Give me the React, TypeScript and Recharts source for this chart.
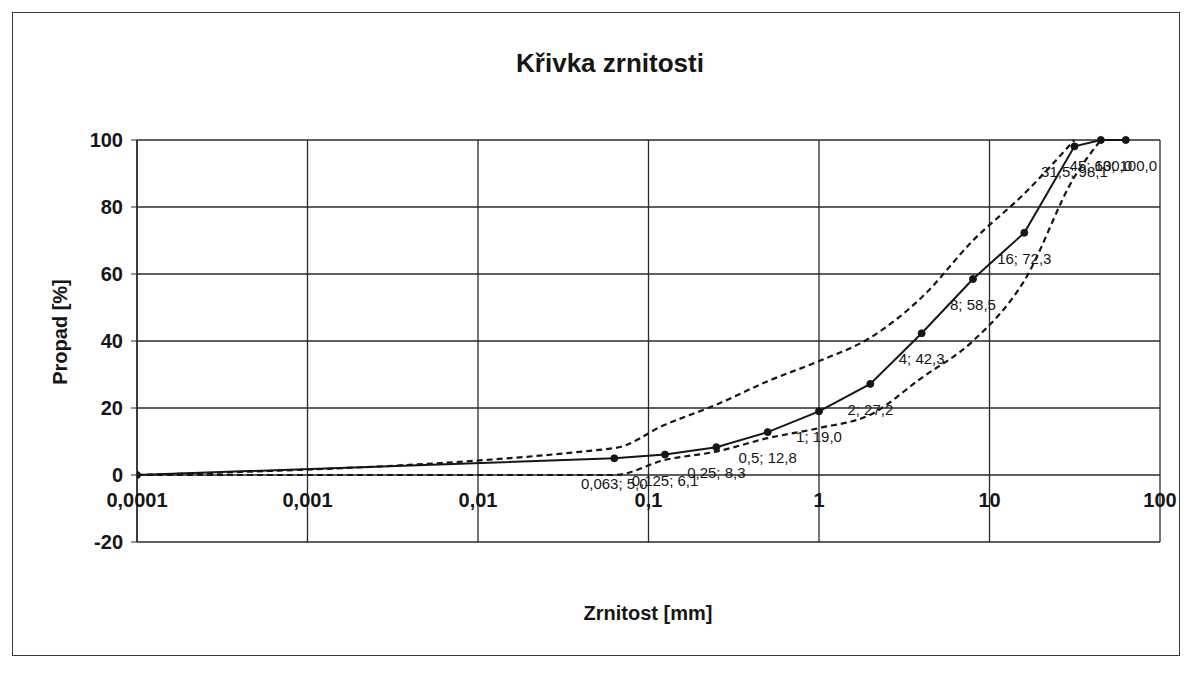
import React from 'react';
import { ComposedChart, Line, XAxis, YAxis, CartesianGrid, LabelList, ReferenceLine } from 'recharts';

// Sieve sizes [mm] and passing [%] of the tested sample
const sieve = [0.0001, 0.063, 0.125, 0.25, 0.5, 1, 2, 4, 8, 16, 31.5, 45, 63];
const passing = [0, 5.0, 6.1, 8.3, 12.8, 19.0, 27.2, 42.3, 58.5, 72.3, 98.1, 100.0, 100.0];

// Upper limit curve (dashed)
const upperSieve = [0.0001, 0.063, 0.125, 0.25, 0.5, 1, 2, 4, 8, 16, 31.5];
const upperPassing = [0, 8, 15, 21, 28, 34, 41, 53, 70, 84, 100];

// Lower limit curve (dashed)
const lowerSieve = [0.0001, 0.063, 0.125, 0.25, 0.5, 1, 2, 4, 8, 16, 31.5, 45];
const lowerPassing = [0, 0, 4.5, 7, 11, 14, 18, 29, 40, 58, 89, 100];

const xTicks = [0.0001, 0.001, 0.01, 0.1, 1, 10, 100];
const xTickLabels = ['0,0001', '0,001', '0,01', '0,1', '1', '10', '100'];
const yTicks = [-20, 0, 20, 40, 60, 80, 100];

const FONT = '"Liberation Sans", Arial, Helvetica, sans-serif';
const INK = '#161616';
const GRID = '#2a2a2a';

const fmtNum = (v: number) => String(v).replace('.', ',');
const fmtPct = (v: number) => v.toFixed(1).replace('.', ',');

const mainData = sieve.map((x, i) => ({ x, y: passing[i], label: `${fmtNum(x)}; ${fmtPct(passing[i])}` }));
const upperData = upperSieve.map((x, i) => ({ x, y: upperPassing[i] }));
const lowerData = lowerSieve.map((x, i) => ({ x, y: lowerPassing[i] }));
const tickData = xTicks.map((x, i) => ({ x, y: 0, label: xTickLabels[i] }));

const renderPointLabel = (props: any) => {
  const { x, y, value, index } = props;
  if (index === 0) return null;
  return (
    <text x={x} y={y + 31} textAnchor="middle" fontSize={15} fontFamily={FONT} fill={INK}>
      {value}
    </text>
  );
};

const renderXTick = (props: any) => {
  const { x, y, value } = props;
  return (
    <text x={x} y={y + 32} textAnchor="middle" fontSize={20} fontWeight="bold" fontFamily={FONT} fill={INK}>
      {value}
    </text>
  );
};

export default function App() {
  return (
    <div style={{ position: 'absolute', left: 0, top: 0, width: 1192, height: 673, background: '#fff', fontFamily: FONT }}>
      <div
        style={{
          position: 'absolute', left: 12, top: 12, width: 1168, height: 644,
          border: '1.5px solid #3a3a3a', boxSizing: 'border-box',
        }}
      />
      <div
        style={{
          position: 'absolute', left: 410, top: 46, width: 400, textAlign: 'center',
          fontSize: 26, fontWeight: 'bold', color: INK, lineHeight: '34px',
        }}
      >
        Křivka zrnitosti
      </div>
      <div
        style={{
          position: 'absolute', left: 498, top: 600, width: 300, textAlign: 'center',
          fontSize: 20, fontWeight: 'bold', color: INK, lineHeight: '26px',
        }}
      >
        Zrnitost [mm]
      </div>
      <div style={{ position: 'absolute', left: 60, top: 332, width: 0, height: 0 }}>
        <div
          style={{
            position: 'absolute', left: -100, top: -13, width: 200, textAlign: 'center',
            fontSize: 20, fontWeight: 'bold', color: INK, lineHeight: '26px',
            transform: 'rotate(-90deg)', whiteSpace: 'nowrap',
          }}
        >
          Propad [%]
        </div>
      </div>
      <div style={{ position: 'absolute', left: 0, top: 0 }}>
        <ComposedChart width={1192} height={673} margin={{ top: 140, right: 32, bottom: 131, left: 77 }}>
          <CartesianGrid stroke={GRID} strokeWidth={1.3} vertical={false} />
          <XAxis
            dataKey="x"
            type="number"
            scale="log"
            domain={[0.0001, 100]}
            ticks={xTicks}
            allowDataOverflow
            height={0}
            tick={false}
            tickLine={false}
            axisLine={{ stroke: GRID, strokeWidth: 1.5 }}
          />
          <YAxis
            type="number"
            domain={[-20, 100]}
            ticks={yTicks}
            interval={0}
            width={60}
            tickSize={6}
            tickMargin={8}
            axisLine={{ stroke: GRID, strokeWidth: 1.5 }}
            tickLine={{ stroke: GRID }}
            tick={{ fontSize: 20, fontWeight: 'bold', fontFamily: FONT, fill: INK }}
          />
          {xTicks.map((t) => (
            <ReferenceLine key={`v-${t}`} x={t} stroke={GRID} strokeWidth={1.3} />
          ))}
          <Line
            data={tickData}
            dataKey="y"
            stroke="none"
            dot={false}
            activeDot={false}
            isAnimationActive={false}
            legendType="none"
          >
            <LabelList dataKey="label" content={renderXTick} />
          </Line>
          <Line
            data={upperData}
            dataKey="y"
            type="monotone"
            stroke={INK}
            strokeWidth={2.2}
            strokeDasharray="6 4"
            dot={false}
            activeDot={false}
            isAnimationActive={false}
          />
          <Line
            data={lowerData}
            dataKey="y"
            type="monotone"
            stroke={INK}
            strokeWidth={2.2}
            strokeDasharray="6 4"
            dot={false}
            activeDot={false}
            isAnimationActive={false}
          />
          <Line
            data={mainData}
            dataKey="y"
            type="linear"
            stroke={INK}
            strokeWidth={2}
            dot={{ r: 3.5, fill: INK, stroke: INK, strokeWidth: 1 }}
            activeDot={false}
            isAnimationActive={false}
          >
            <LabelList dataKey="label" content={renderPointLabel} />
          </Line>
        </ComposedChart>
      </div>
    </div>
  );
}
